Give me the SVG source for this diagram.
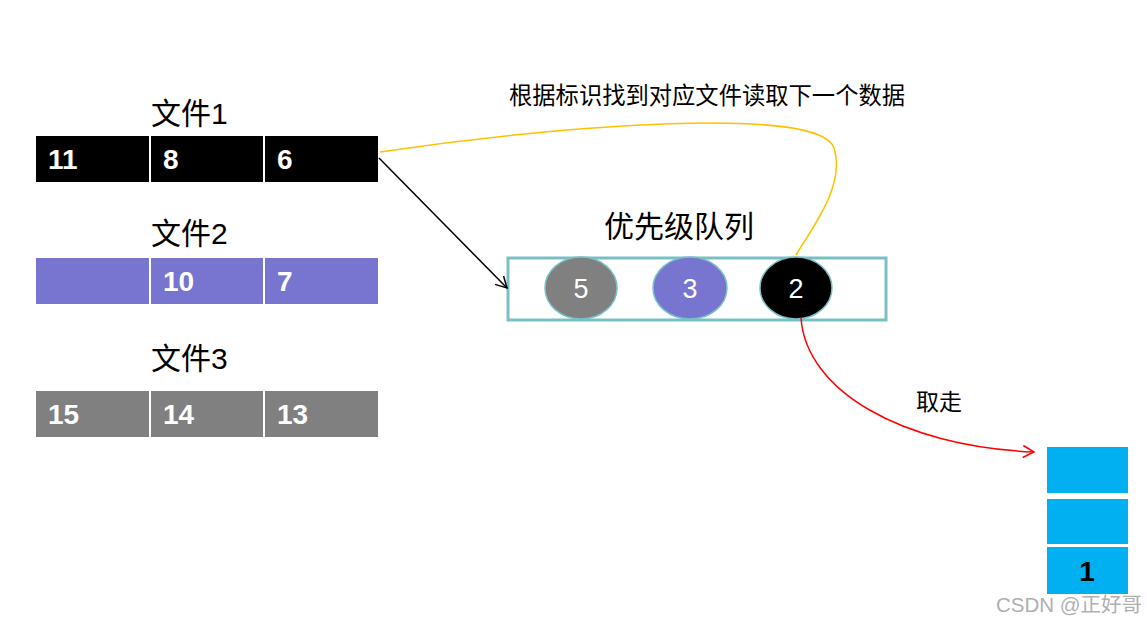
<svg xmlns="http://www.w3.org/2000/svg" width="1147" height="625" viewBox="0 0 1147 625">
<defs>
<style>
.lbl{font-family:"Liberation Sans","Noto Sans CJK SC",sans-serif;fill:#000}
.num{font-family:"Liberation Sans",sans-serif;font-weight:bold;font-size:28px;fill:#fff}
.cnum{font-family:"Liberation Sans",sans-serif;font-size:27px;fill:#fff;text-anchor:middle}
.circ{stroke:#78C0C6;stroke-width:1.5}
</style>
<marker id="ahb" markerWidth="14" markerHeight="14" refX="12" refY="7" orient="auto" markerUnits="userSpaceOnUse">
<path d="M1,1 L12,7 L1,13" fill="none" stroke="#000" stroke-width="1.5"/>
</marker>
<marker id="ahr" markerWidth="14" markerHeight="14" refX="12" refY="7" orient="auto" markerUnits="userSpaceOnUse">
<path d="M1,1 L12,7 L1,13" fill="none" stroke="#f00" stroke-width="1.5"/>
</marker>
</defs>
<rect width="1147" height="625" fill="#fff"/>

<g id="file1">
<text class="lbl" x="151" y="124" font-size="30">文件1</text>
<rect x="36" y="136" width="113" height="46" fill="#000"/>
<rect x="151" y="136" width="112" height="46" fill="#000"/>
<rect x="265" y="136" width="113" height="46" fill="#000"/>
<text class="num" x="48" y="169">11</text>
<text class="num" x="163" y="169">8</text>
<text class="num" x="277" y="169">6</text>
</g>

<g id="file2">
<text class="lbl" x="151" y="244" font-size="30">文件2</text>
<rect x="36" y="258" width="113" height="46" fill="#7775CF"/>
<rect x="151" y="258" width="112" height="46" fill="#7775CF"/>
<rect x="265" y="258" width="113" height="46" fill="#7775CF"/>
<text class="num" x="163" y="291">10</text>
<text class="num" x="277" y="291">7</text>
</g>

<g id="file3">
<text class="lbl" x="151" y="369" font-size="30">文件3</text>
<rect x="36" y="391" width="113" height="46" fill="#808080"/>
<rect x="151" y="391" width="112" height="46" fill="#808080"/>
<rect x="265" y="391" width="113" height="46" fill="#808080"/>
<text class="num" x="48" y="424">15</text>
<text class="num" x="163" y="424">14</text>
<text class="num" x="277" y="424">13</text>
</g>

<g id="queue">
<text class="lbl" x="679" y="237" font-size="30" text-anchor="middle">优先级队列</text>
<rect x="508" y="258" width="378" height="62" fill="none" stroke="#78C0C6" stroke-width="3"/>
<ellipse class="circ" cx="581" cy="288" rx="36" ry="31" fill="#808080"/>
<text class="cnum" x="581" y="298">5</text>
<ellipse class="circ" cx="690" cy="288" rx="37" ry="31" fill="#7775CF"/>
<text class="cnum" x="690" y="298">3</text>
<ellipse class="circ" cx="796" cy="288" rx="36" ry="31" fill="#000"/>
<text class="cnum" x="796" y="298">2</text>
</g>

<g id="output">
<rect x="1047" y="447" width="81" height="46" fill="#00B0F0"/>
<rect x="1047" y="499" width="81" height="45" fill="#00B0F0"/>
<rect x="1047" y="547" width="81" height="47" fill="#00B0F0"/>
<text x="1087" y="581" font-family="Liberation Sans,sans-serif" font-weight="bold" font-size="28" text-anchor="middle" fill="#000">1</text>
</g>

<g id="connectors">
<path d="M380,152 C 560,125 820,105 834,148 C 846,185 812,228 796,255" fill="none" stroke="#FFC000" stroke-width="1.5"/>
<line x1="379" y1="158" x2="507" y2="288" stroke="#000" stroke-width="1.5" marker-end="url(#ahb)"/>
<path d="M801,318 C 806,390 900,446 1034,452" fill="none" stroke="#f00" stroke-width="1.5" marker-end="url(#ahr)"/>
</g>

<g id="labels">
<text class="lbl" x="509" y="104" font-size="23.3">根据标识找到对应文件读取下一个数据</text>
<text class="lbl" x="916" y="410" font-size="23">取走</text>
<text x="996" y="612" font-family="Liberation Sans,'Noto Sans CJK SC',sans-serif" font-size="20.5" fill="#b0b0b0">CSDN @正好哥</text>
</g>
</svg>
